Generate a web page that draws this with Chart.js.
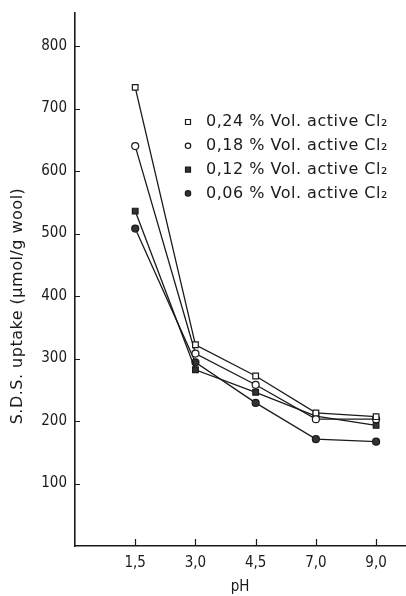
<!DOCTYPE html>
<html>
<head>
<meta charset="utf-8">
<script src="https://cdn.jsdelivr.net/npm/chart.js@4.4.1/dist/chart.umd.min.js"></script>
<style>
  html, body { margin: 0; padding: 0; background: #fff; }
  #wrap { width: 406px; height: 596px; }
</style>
</head>
<body>
<div id="wrap"><canvas id="uptakeChart" width="406" height="596"></canvas></div>
<script>
// pH categories and where they sit on the x scale
const phLabels = ['1,5', '3,0', '4,5', '7,0', '9,0'];
const phPositions = [1, 2, 3, 4, 5];

// S.D.S. uptake (µmol/g wool) per concentration of active chlorine
const seriesNames = [
    '0,24 % Vol. active Cl₂',
    '0,18 % Vol. active Cl₂',
    '0,12 % Vol. active Cl₂',
    '0,06 % Vol. active Cl₂'
];
const uptake024 = [734, 322, 272, 213, 207];
const uptake018 = [640, 308, 258, 203, 203];
const uptake012 = [536, 282, 246, 208, 193];
const uptake006 = [508, 294, 229, 171, 167];

const yTickValues = [100, 200, 300, 400, 500, 600, 700, 800];
const yTitle = 'S.D.S. uptake (µmol/g wool)';

const FONT = "'DejaVu Sans Condensed', 'DejaVu Sans', sans-serif";
const WIDE_FONT = "'DejaVu Sans', sans-serif";
const INK = '#1a1a1a';

function toPoints(values) {
    return values.map((v, i) => ({ x: phPositions[i], y: v }));
}

// marker look per series: open square, open circle, filled square, filled circle
const markers = [
    { style: 'rect', fill: '#ffffff' },
    { style: 'circle', fill: '#ffffff' },
    { style: 'rect', fill: '#333333' },
    { style: 'circle', fill: '#333333' }
];

const allValues = [uptake024, uptake018, uptake012, uptake006];
const datasets = allValues.map((vals, k) => ({
    label: seriesNames[k],
    data: toPoints(vals),
    borderColor: INK,
    borderWidth: 1.3,
    pointStyle: markers[k].style,
    pointRadius: markers[k].style === 'rect' ? 4 : 3.5,
    pointBackgroundColor: markers[k].fill,
    pointBorderColor: INK,
    pointBorderWidth: 1.2,
    fill: false,
    tension: 0
}));

// small ticks pointing into the plot, like the original figure
const inwardTicks = {
    id: 'inwardTicks',
    afterDatasetsDraw(chart) {
        const { ctx, chartArea, scales } = chart;
        ctx.save();
        ctx.strokeStyle = INK;
        ctx.lineWidth = 1.2;
        ctx.beginPath();
        yTickValues.forEach(v => {
            const y = Math.round(scales.y.getPixelForValue(v)) + 0.5;
            ctx.moveTo(chartArea.left, y);
            ctx.lineTo(chartArea.left + 5, y);
        });
        phPositions.forEach(p => {
            const x = Math.round(scales.x.getPixelForValue(p)) + 0.5;
            ctx.moveTo(x, chartArea.bottom);
            ctx.lineTo(x, chartArea.bottom - 7);
        });
        ctx.stroke();
        ctx.restore();
    }
};

// legend inside the plot area and the rotated y title
const insideLegend = {
    id: 'insideLegend',
    afterDraw(chart) {
        const { ctx } = chart;
        const mx = 188;
        const tx = 206;
        const y0 = 122;
        const step = 23.8;
        ctx.save();
        ctx.font = '16px ' + WIDE_FONT;
        ctx.letterSpacing = '0.5px';
        ctx.textBaseline = 'middle';
        chart.data.datasets.forEach((ds, k) => {
            const y = y0 + k * step;
            ctx.lineWidth = 1.2;
            ctx.strokeStyle = INK;
            ctx.fillStyle = ds.pointBackgroundColor;
            ctx.beginPath();
            if (ds.pointStyle === 'rect') {
                ctx.rect(mx - 2.5, y - 2.5, 5, 5);
            } else {
                ctx.arc(mx, y, 2.7, 0, Math.PI * 2);
            }
            ctx.fill();
            ctx.stroke();
            ctx.fillStyle = INK;
            ctx.fillText(ds.label, tx, y);
        });

        // y axis title
        ctx.translate(18, 306);
        ctx.rotate(-Math.PI / 2);
        ctx.textAlign = 'center';
        ctx.fillStyle = INK;
        ctx.fillText(yTitle, 0, 0);
        ctx.restore();
    }
};

const chart = new Chart(document.getElementById('uptakeChart').getContext('2d'), {
    type: 'line',
    data: { datasets: datasets },
    options: {
        responsive: false,
        animation: false,
        layout: { autoPadding: false, padding: { top: 13, right: 1, left: 0, bottom: 0 } },
        plugins: {
            legend: { display: false },
            tooltip: { enabled: false }
        },
        scales: {
            x: {
                type: 'linear',
                min: 0,
                max: 5.48,
                afterBuildTicks: axis => { axis.ticks = phPositions.map(v => ({ value: v })); },
                afterFit: axis => { axis.height = 50; },
                grid: { display: false, drawTicks: false },
                border: { display: true, color: INK, width: 1.6 },
                ticks: {
                    autoSkip: false,
                    maxRotation: 0,
                    padding: 8,
                    color: INK,
                    font: { family: FONT, size: 15 },
                    callback: value => phLabels[phPositions.indexOf(value)]
                },
                title: {
                    display: true,
                    text: 'pH',
                    color: INK,
                    font: { family: FONT, size: 15 },
                    padding: { top: 2, bottom: 0 }
                }
            },
            y: {
                min: 0,
                max: 853,
                afterBuildTicks: axis => { axis.ticks = yTickValues.map(v => ({ value: v })); },
                afterFit: axis => {
                    axis.width = 75;
                    axis.paddingTop = 0;
                    axis.paddingBottom = 0;
                },
                grid: { display: false, drawTicks: false },
                border: { display: true, color: INK, width: 1.6 },
                ticks: {
                    padding: 8,
                    color: INK,
                    font: { family: FONT, size: 15 }
                },
                title: { display: false }
            }
        }
    },
    plugins: [inwardTicks, insideLegend]
});
</script>
</body>
</html>
